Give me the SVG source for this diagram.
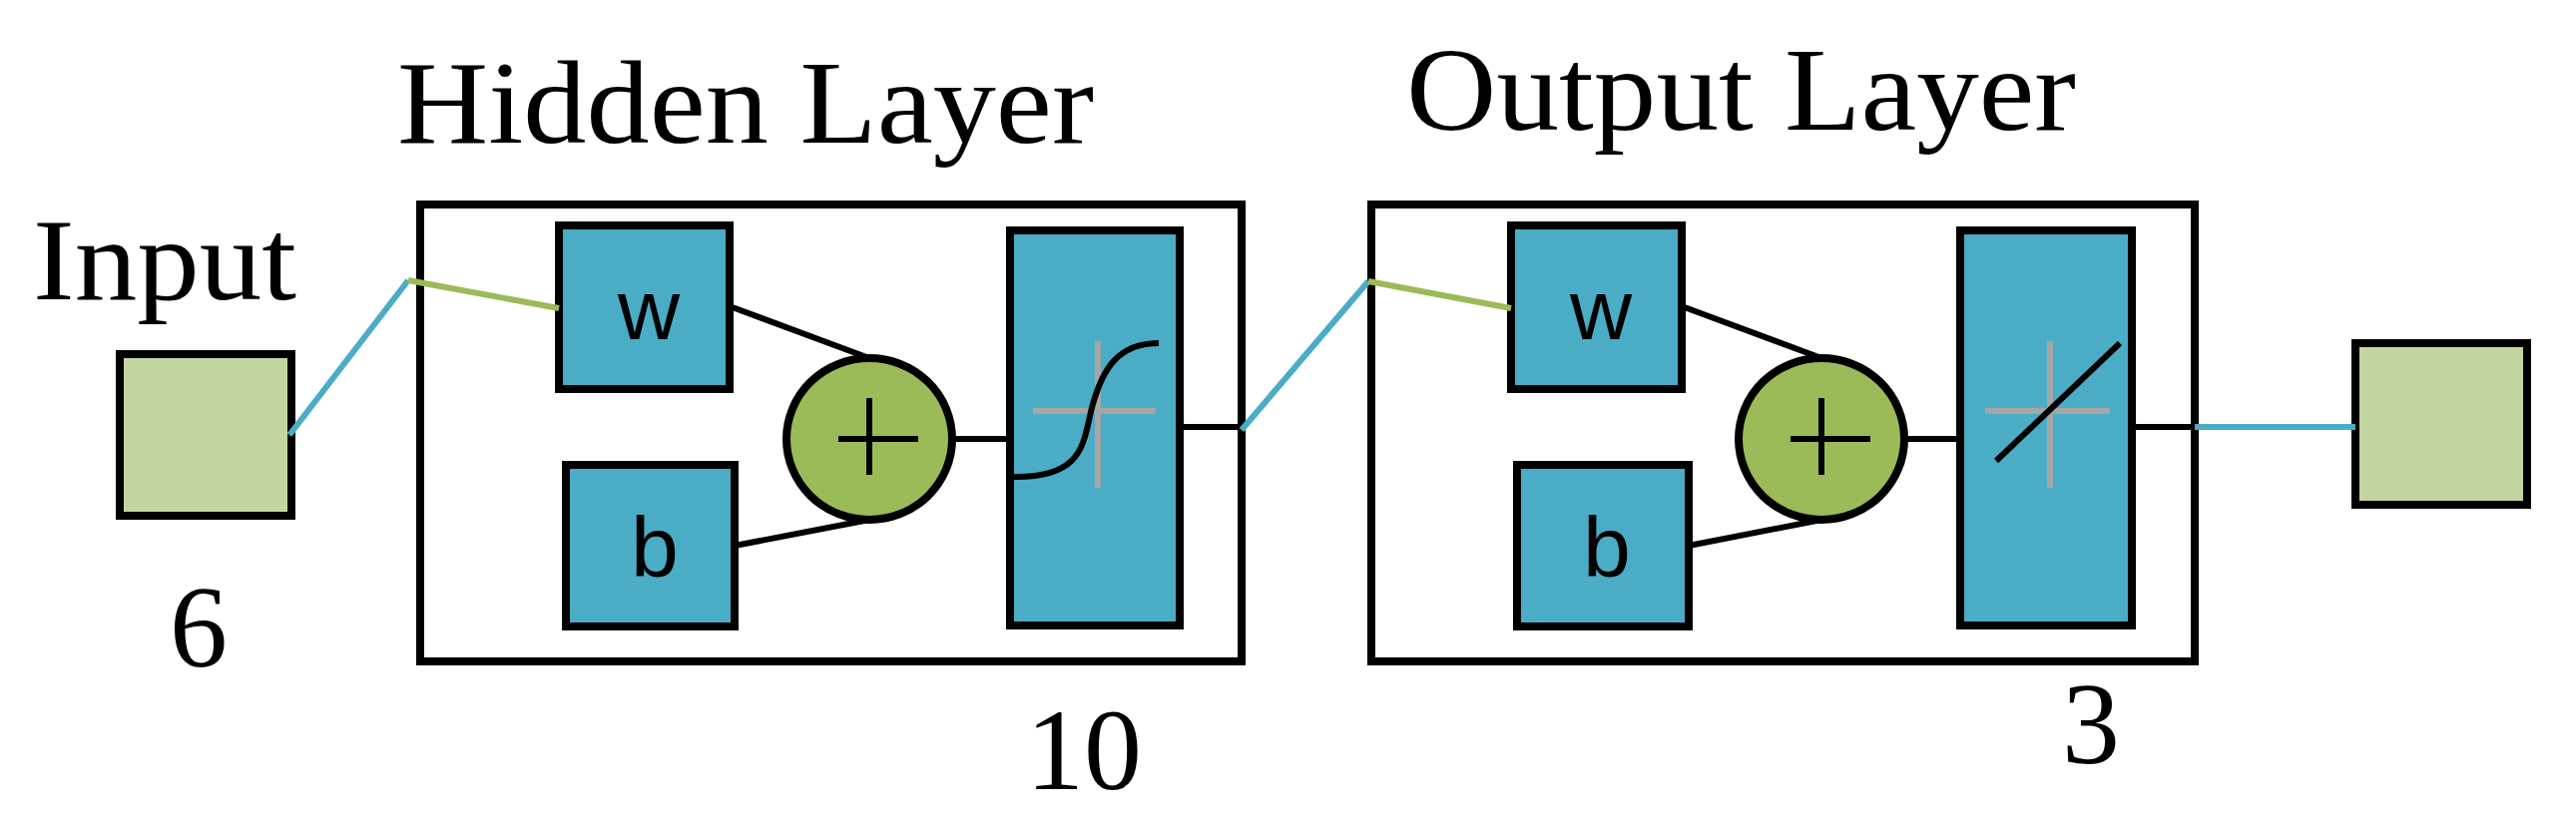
<svg xmlns="http://www.w3.org/2000/svg" width="2581" height="824" viewBox="0 0 2581 824">
<style>
.t{font-family:"Liberation Serif",serif;fill:#000}
.s{font-family:"Liberation Sans",sans-serif;fill:#000;font-size:86px;text-anchor:middle}
.frame{fill:#fff;stroke:#000;stroke-width:8}
.blk{fill:#4bacc6;stroke:#000;stroke-width:8}
.io{fill:#c4d6a0;stroke:#000;stroke-width:8}
.sum{fill:#9bbb59;stroke:#000;stroke-width:8}
.k{stroke:#000;stroke-width:6;fill:none}
.g{stroke:#a6a6a6;stroke-width:6}
.bl{stroke:#4bacc6;stroke-width:6;fill:none}
.gr{stroke:#9bbb59;stroke-width:6;fill:none}
</style>
<rect width="2581" height="824" fill="#fff"/>
<text class="t" x="33" y="300" font-size="116" textLength="264" lengthAdjust="spacingAndGlyphs">Input</text>
<text class="t" x="398" y="143" font-size="118" textLength="698" lengthAdjust="spacingAndGlyphs">Hidden Layer</text>
<text class="t" x="1409" y="130" font-size="118" textLength="671" lengthAdjust="spacingAndGlyphs">Output Layer</text>
<text class="t" x="170" y="668" font-size="116">6</text>
<text class="t" x="1028" y="791" font-size="116">10</text>
<text class="t" x="2066" y="765" font-size="116">3</text>
<g id="input"><rect class="io" x="120" y="355" width="172" height="162"/></g>
<g id="hidden">
<rect class="frame" x="421" y="205" width="823" height="458"/>
</g>
<g id="output">
<rect class="frame" x="1374" y="205" width="825" height="458"/>
</g>
<g id="w1"><rect class="blk" x="560" y="226" width="171" height="164"/><text class="s" x="650" y="340">w</text></g>
<g id="b1"><rect class="blk" x="567" y="466" width="169" height="162"/><text class="s" x="656" y="578">b</text></g>
<g id="sum1"><ellipse class="sum" cx="871" cy="440" rx="83" ry="81"/><path class="k" d="M840 440H920M871 399V476"/></g>
<g id="tf1"><rect class="blk" x="1012" y="231" width="170" height="396"/><path class="g" d="M1100 342V489M1035 412H1158"/><path class="k" d="M1013 478C1090 480 1085 440 1095 405C1105 370 1120 344 1161 344"/></g>
<g id="w2"><rect class="blk" x="1514" y="226" width="171" height="164"/><text class="s" x="1604" y="340">w</text></g>
<g id="b2"><rect class="blk" x="1520" y="466" width="172" height="162"/><text class="s" x="1610" y="578">b</text></g>
<g id="sum2"><ellipse class="sum" cx="1825" cy="440" rx="83" ry="81"/><path class="k" d="M1794 440H1874M1825 399V476"/></g>
<g id="tf2"><rect class="blk" x="1964" y="231" width="172" height="396"/><path class="g" d="M2054 342V489M1989 412H2114"/><path class="k" d="M2000 462L2124 344"/></g>
<g id="outnode"><rect class="io" x="2360" y="344" width="172" height="162"/></g>
<g id="connectors">
<path class="bl" d="M290 436L409 281"/>
<path class="gr" d="M409 281L560 309"/>
<path class="k" d="M731 307L871 359M736 547L871 521M954 440H1012M1182 428H1244"/>
<path class="bl" d="M1244 431L1371 282"/>
<path class="gr" d="M1371 282L1514 309"/>
<path class="k" d="M1685 307L1825 359M1692 547L1825 521M1908 440H1964M2136 428H2199"/>
<path class="bl" d="M2199 428H2360"/>
</g>
</svg>
